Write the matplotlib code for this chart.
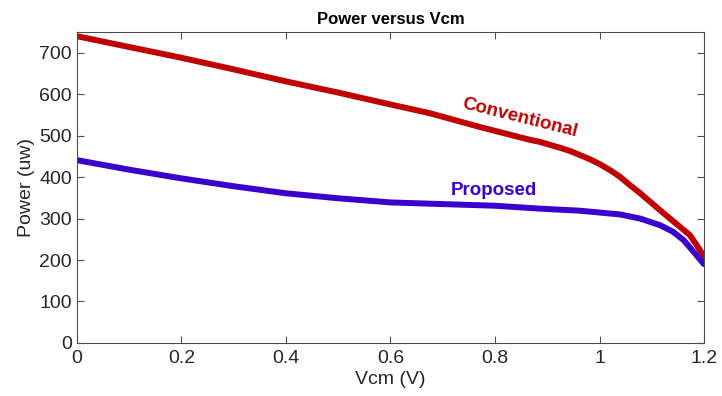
import numpy as np
import matplotlib.pyplot as plt

plt.rcParams['font.family'] = ['Liberation Sans', 'DejaVu Sans']

# supply voltage sweep (V) and measured power (uW)
vcm = [0.0, 0.1, 0.2, 0.3, 0.4, 0.5, 0.58, 0.676, 0.771, 0.867, 0.886, 0.905,
       0.924, 0.944, 0.963, 0.982, 1.001, 1.020, 1.039, 1.058, 1.078, 1.116,
       1.154, 1.173, 1.186, 1.2]
conventional = [740, 714, 688, 660, 631, 604, 581, 554, 521, 490, 485, 478,
                471, 463, 453, 443, 431, 417, 401, 381, 361, 320,
                280, 260, 236, 208]

vcm_p = [0.0, 0.1, 0.2, 0.3, 0.4, 0.5, 0.6, 0.7, 0.8, 0.886, 0.963, 1.039,
         1.078, 1.116, 1.141, 1.161, 1.18, 1.2]
proposed = [441, 418, 397, 378, 361, 349, 339, 335, 331, 324, 319, 310,
            300, 284, 268, 248, 220, 190]

red = '#C00000'
blue = '#3A00CC'
grey = '#262626'

fig = plt.figure(figsize=(7.22, 3.96), dpi=100)
ax = fig.add_axes([0.1066, 0.134, 0.8685, 0.785])

ax.plot(vcm, conventional, color=red, lw=4.3, solid_capstyle='round', solid_joinstyle='round')
ax.plot(vcm_p, proposed, color=blue, lw=4.3, solid_capstyle='round', solid_joinstyle='round')

ax.set_xlim(0, 1.2)
ax.set_ylim(0, 750)
ax.set_xticks([0, 0.2, 0.4, 0.6, 0.8, 1.0, 1.2])
ax.set_xticklabels(['0', '0.2', '0.4', '0.6', '0.8', '1', '1.2'])
ax.set_yticks(range(0, 800, 100))

ax.tick_params(direction='in', top=True, right=True, length=5, width=0.8,
               colors='#4d4d4d', labelcolor=grey, labelsize=14)
ax.tick_params(axis='x', pad=5)
for s in ax.spines.values():
    s.set_color('#4d4d4d')
    s.set_linewidth(0.8)

ax.set_xlabel('Vcm (V)', fontsize=14, color=grey, labelpad=3)
ax.set_ylabel('Power (uw)', fontsize=14, color=grey, labelpad=3)
ax.set_title('Power versus Vcm', fontsize=12, fontweight='bold', pad=6)

ax.text(0.848, 543, 'Conventional', color=red, fontsize=13.5, fontweight='bold',
        rotation=-14, ha='center', va='center', rotation_mode='anchor')
ax.text(0.798, 367, 'Proposed', color=blue, fontsize=13.5, fontweight='bold',
        ha='center', va='center')

fig.savefig('out.png', dpi=100)
